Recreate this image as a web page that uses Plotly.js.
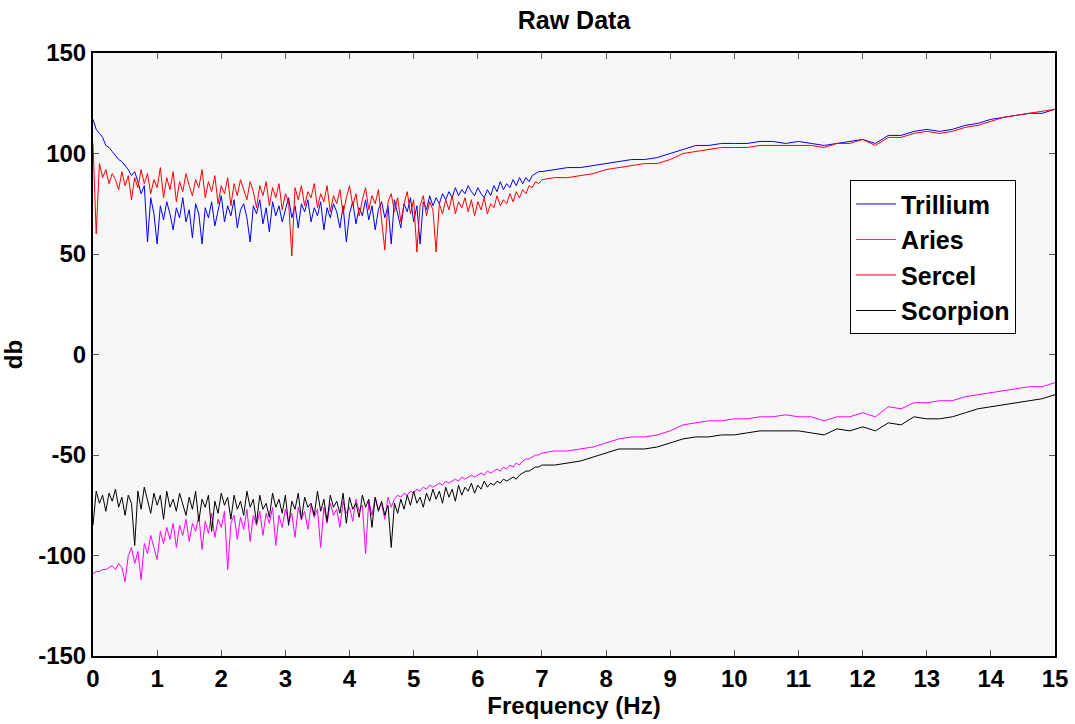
<!DOCTYPE html>
<html>
<head>
<meta charset="utf-8">
<script src="https://cdn.plot.ly/plotly-3.0.1.min.js"></script>
<style>html,body{margin:0;padding:0;background:#fff;}#chart{width:1075px;height:724px;}</style>
</head>
<body>
<div id="chart"></div>
<script>
// Frequency grid (Hz)
const freq = [
0.00,0.05,0.10,0.15,0.20,0.25,0.30,0.35,0.40,0.45,0.50,0.55,0.60,0.65,0.70,0.75,0.80,0.85,0.90,0.95,
1.00,1.05,1.10,1.15,1.20,1.25,1.30,1.35,1.40,1.45,1.50,1.55,1.60,1.65,1.70,1.75,1.80,1.85,1.90,1.95,
2.00,2.05,2.10,2.15,2.20,2.25,2.30,2.35,2.40,2.45,2.50,2.55,2.60,2.65,2.70,2.75,2.80,2.85,2.90,2.95,
3.00,3.05,3.10,3.15,3.20,3.25,3.30,3.35,3.40,3.45,3.50,3.55,3.60,3.65,3.70,3.75,3.80,3.85,3.90,3.95,
4.00,4.05,4.10,4.15,4.20,4.25,4.30,4.35,4.40,4.45,4.50,4.55,4.60,4.65,4.70,4.75,4.80,4.85,4.90,4.95,
5.00,5.05,5.10,5.15,5.20,5.25,5.30,5.35,5.40,5.45,5.50,5.55,5.60,5.65,5.70,5.75,5.80,5.85,5.90,5.95,
6.00,6.05,6.10,6.15,6.20,6.25,6.30,6.35,6.40,6.45,6.50,6.55,6.60,6.65,6.70,6.75,6.80,6.85,6.90,6.95,
7.00,
7.2,7.4,7.6,7.8,8.0,8.2,8.4,8.6,8.8,9.0,9.2,9.4,9.6,9.8,10.0,10.2,10.4,10.6,10.8,11.0,
11.2,11.4,11.6,11.8,12.0,12.2,12.4,12.6,12.8,13.0,13.2,13.4,13.6,13.8,14.0,14.2,14.4,14.6,14.8,15.0
];

const trillium = [
117,112,110,108,104,103,101,99,97,96,94,92,89,91,86,80,84,56,78,70,
55,74,67,76,70,62,73,68,78,66,72,58,75,70,55,73,68,76,64,71,
79,66,74,69,77,63,72,75,68,56,74,70,77,65,73,61,76,69,74,66,
72,78,68,74,63,75,71,77,66,73,69,76,62,73,68,75,71,63,74,56,
70,76,65,73,69,77,67,74,62,72,76,68,74,55,77,70,63,75,71,78,
66,74,55,76,72,79,74,78,75,80,77,81,78,83,79,82,80,84,81,79,
83,80,78,82,79,84,81,86,82,85,83,87,84,88,85,88,86,89,90,91,
91,
92,93,93,94,95,96,97,97,98,100,102,104,104,105,105,105,106,106,105,106,
105,104,105,106,107,105,109,109,111,112,111,112,114,115,117,118,119,120,120,122
];

const aries = [
-109,-108,-108,-107,-107,-106,-105,-107,-104,-106,-113,-100,-96,-104,-98,-112,-94,-99,-90,-96,
-102,-88,-94,-86,-92,-84,-96,-85,-90,-82,-93,-84,-88,-80,-97,-83,-89,-79,-91,-82,
-86,-78,-107,-84,-80,-92,-81,-87,-77,-93,-80,-85,-78,-90,-79,-84,-76,-95,-80,-86,
-77,-83,-79,-91,-76,-82,-78,-87,-75,-81,-77,-96,-76,-84,-74,-80,-77,-86,-73,-79,
-76,-83,-72,-78,-75,-99,-73,-80,-71,-77,-74,-82,-71,-76,-72,-70,-71,-69,-70,-68,
-69,-67,-68,-66,-67,-65,-66,-65,-64,-65,-63,-64,-63,-62,-63,-61,-62,-61,-60,-61,
-60,-59,-60,-58,-59,-58,-57,-58,-56,-57,-55,-56,-54,-55,-53,-52,-52,-51,-50,-50,
-49,
-48,-48,-47,-46,-44,-42,-41,-41,-40,-38,-35,-34,-33,-33,-32,-32,-31,-31,-30,-31,
-31,-33,-31,-31,-29,-31,-26,-27,-24,-24,-23,-23,-21,-20,-19,-18,-17,-16,-16,-14
];

const sercel = [
105,60,95,88,92,85,90,87,82,91,84,89,77,88,83,92,85,90,80,87,
83,93,78,88,82,91,76,86,81,90,84,79,87,83,92,78,86,81,89,75,
84,80,88,74,85,79,87,82,77,86,81,73,84,79,86,74,83,78,85,72,
80,76,49,83,77,84,74,81,78,85,73,80,76,84,71,79,75,82,70,78,
84,74,80,69,77,83,72,79,75,82,68,52,76,80,71,78,66,75,81,70,
77,51,74,79,69,76,72,51,75,70,77,72,79,70,76,73,78,71,77,69,
76,72,78,70,75,73,79,74,77,75,80,76,81,78,82,80,84,83,86,85,
87,
88,88,89,90,92,93,94,95,95,97,100,101,102,103,103,103,104,104,104,104,
104,103,105,105,107,104,108,108,110,111,110,111,113,114,116,118,119,120,121,122
];

const scorpion = [
-85,-68,-74,-70,-78,-69,-73,-67,-76,-71,-80,-70,-74,-95,-68,-77,-66,-73,-79,-69,
-75,-70,-82,-68,-76,-72,-78,-69,-74,-80,-71,-77,-68,-83,-72,-76,-70,-88,-73,-79,
-69,-75,-71,-82,-70,-77,-73,-80,-68,-76,-72,-84,-70,-77,-74,-81,-69,-76,-72,-79,
-70,-85,-73,-77,-69,-82,-71,-76,-74,-80,-68,-78,-72,-83,-70,-76,-73,-79,-69,-84,
-71,-77,-74,-81,-70,-76,-72,-86,-71,-78,-73,-80,-75,-96,-74,-79,-72,-77,-70,-75,
-68,-74,-71,-76,-69,-73,-67,-72,-68,-74,-66,-71,-67,-73,-65,-70,-66,-68,-64,-69,
-65,-67,-63,-66,-64,-65,-63,-64,-62,-63,-62,-61,-62,-60,-59,-58,-58,-57,-56,-56,
-55,
-55,-54,-53,-51,-49,-47,-47,-47,-46,-44,-42,-41,-41,-40,-40,-39,-38,-38,-38,-38,
-39,-40,-37,-38,-36,-38,-34,-35,-31,-32,-32,-31,-29,-27,-26,-25,-24,-23,-22,-20
];

const seriesNames = ['Trillium','Aries','Sercel','Scorpion'];
const seriesColors = ['#0000ff','#ff00ff','#ff0000','#000000'];
const seriesData = [trillium, aries, sercel, scorpion];

const xTicks = [0,1,2,3,4,5,6,7,8,9,10,11,12,13,14,15];
const yTicks = [-150,-100,-50,0,50,100,150];

const FONT = 'Liberation Sans, Arial, sans-serif';

const traces = seriesNames.map((n,i)=>({
  type:'scatter', mode:'lines', name:'<b>'+n+'</b>', x:freq, y:seriesData[i],
  line:{color:seriesColors[i], width:1}
}));

const layout = {
  width:1075, height:724,
  paper_bgcolor:'#ffffff', plot_bgcolor:'#f7f7f7',
  margin:{l:93, r:20, t:53, b:68},
  title:{text:'<b>Raw Data</b>', x:0.534, xanchor:'center', y:0.972, yanchor:'middle',
         font:{family:FONT, size:25, color:'#000'}},
  font:{family:FONT, color:'#000'},
  xaxis:{range:[0,15], tickvals:xTicks, ticktext:xTicks.map(v=>'<b>'+v+'</b>'),
         ticks:'inside', ticklen:6, tickwidth:1, tickcolor:'#555',
         showline:true, linecolor:'#000', linewidth:2, mirror:'ticks',
         showgrid:false, zeroline:false,
         tickfont:{family:FONT, size:24, color:'#000'},
         title:{text:'<b>Frequency (Hz)</b>', font:{family:FONT, size:24, color:'#000'}, standoff:3}},
  yaxis:{range:[-150,150], tickvals:yTicks, ticktext:yTicks.map(v=>'<b>'+v+'</b>'),
         ticks:'inside', ticklen:6, tickwidth:1, tickcolor:'#555',
         showline:true, linecolor:'#000', linewidth:2, mirror:'ticks',
         showgrid:false, zeroline:false,
         tickfont:{family:FONT, size:24, color:'#000'},
         title:{text:'<b>db</b>', font:{family:FONT, size:24, color:'#000'}, standoff:10}},
  legend:{x:0.787, y:0.789, xanchor:'left', yanchor:'top',
          bgcolor:'#ffffff', bordercolor:'#000', borderwidth:1, itemwidth:40,
          font:{family:FONT, size:25, color:'#000'}, tracegroupgap:0},
  showlegend:true
};

Plotly.newPlot('chart', traces, layout, {displayModeBar:false, staticPlot:true});
</script>
</body>
</html>
